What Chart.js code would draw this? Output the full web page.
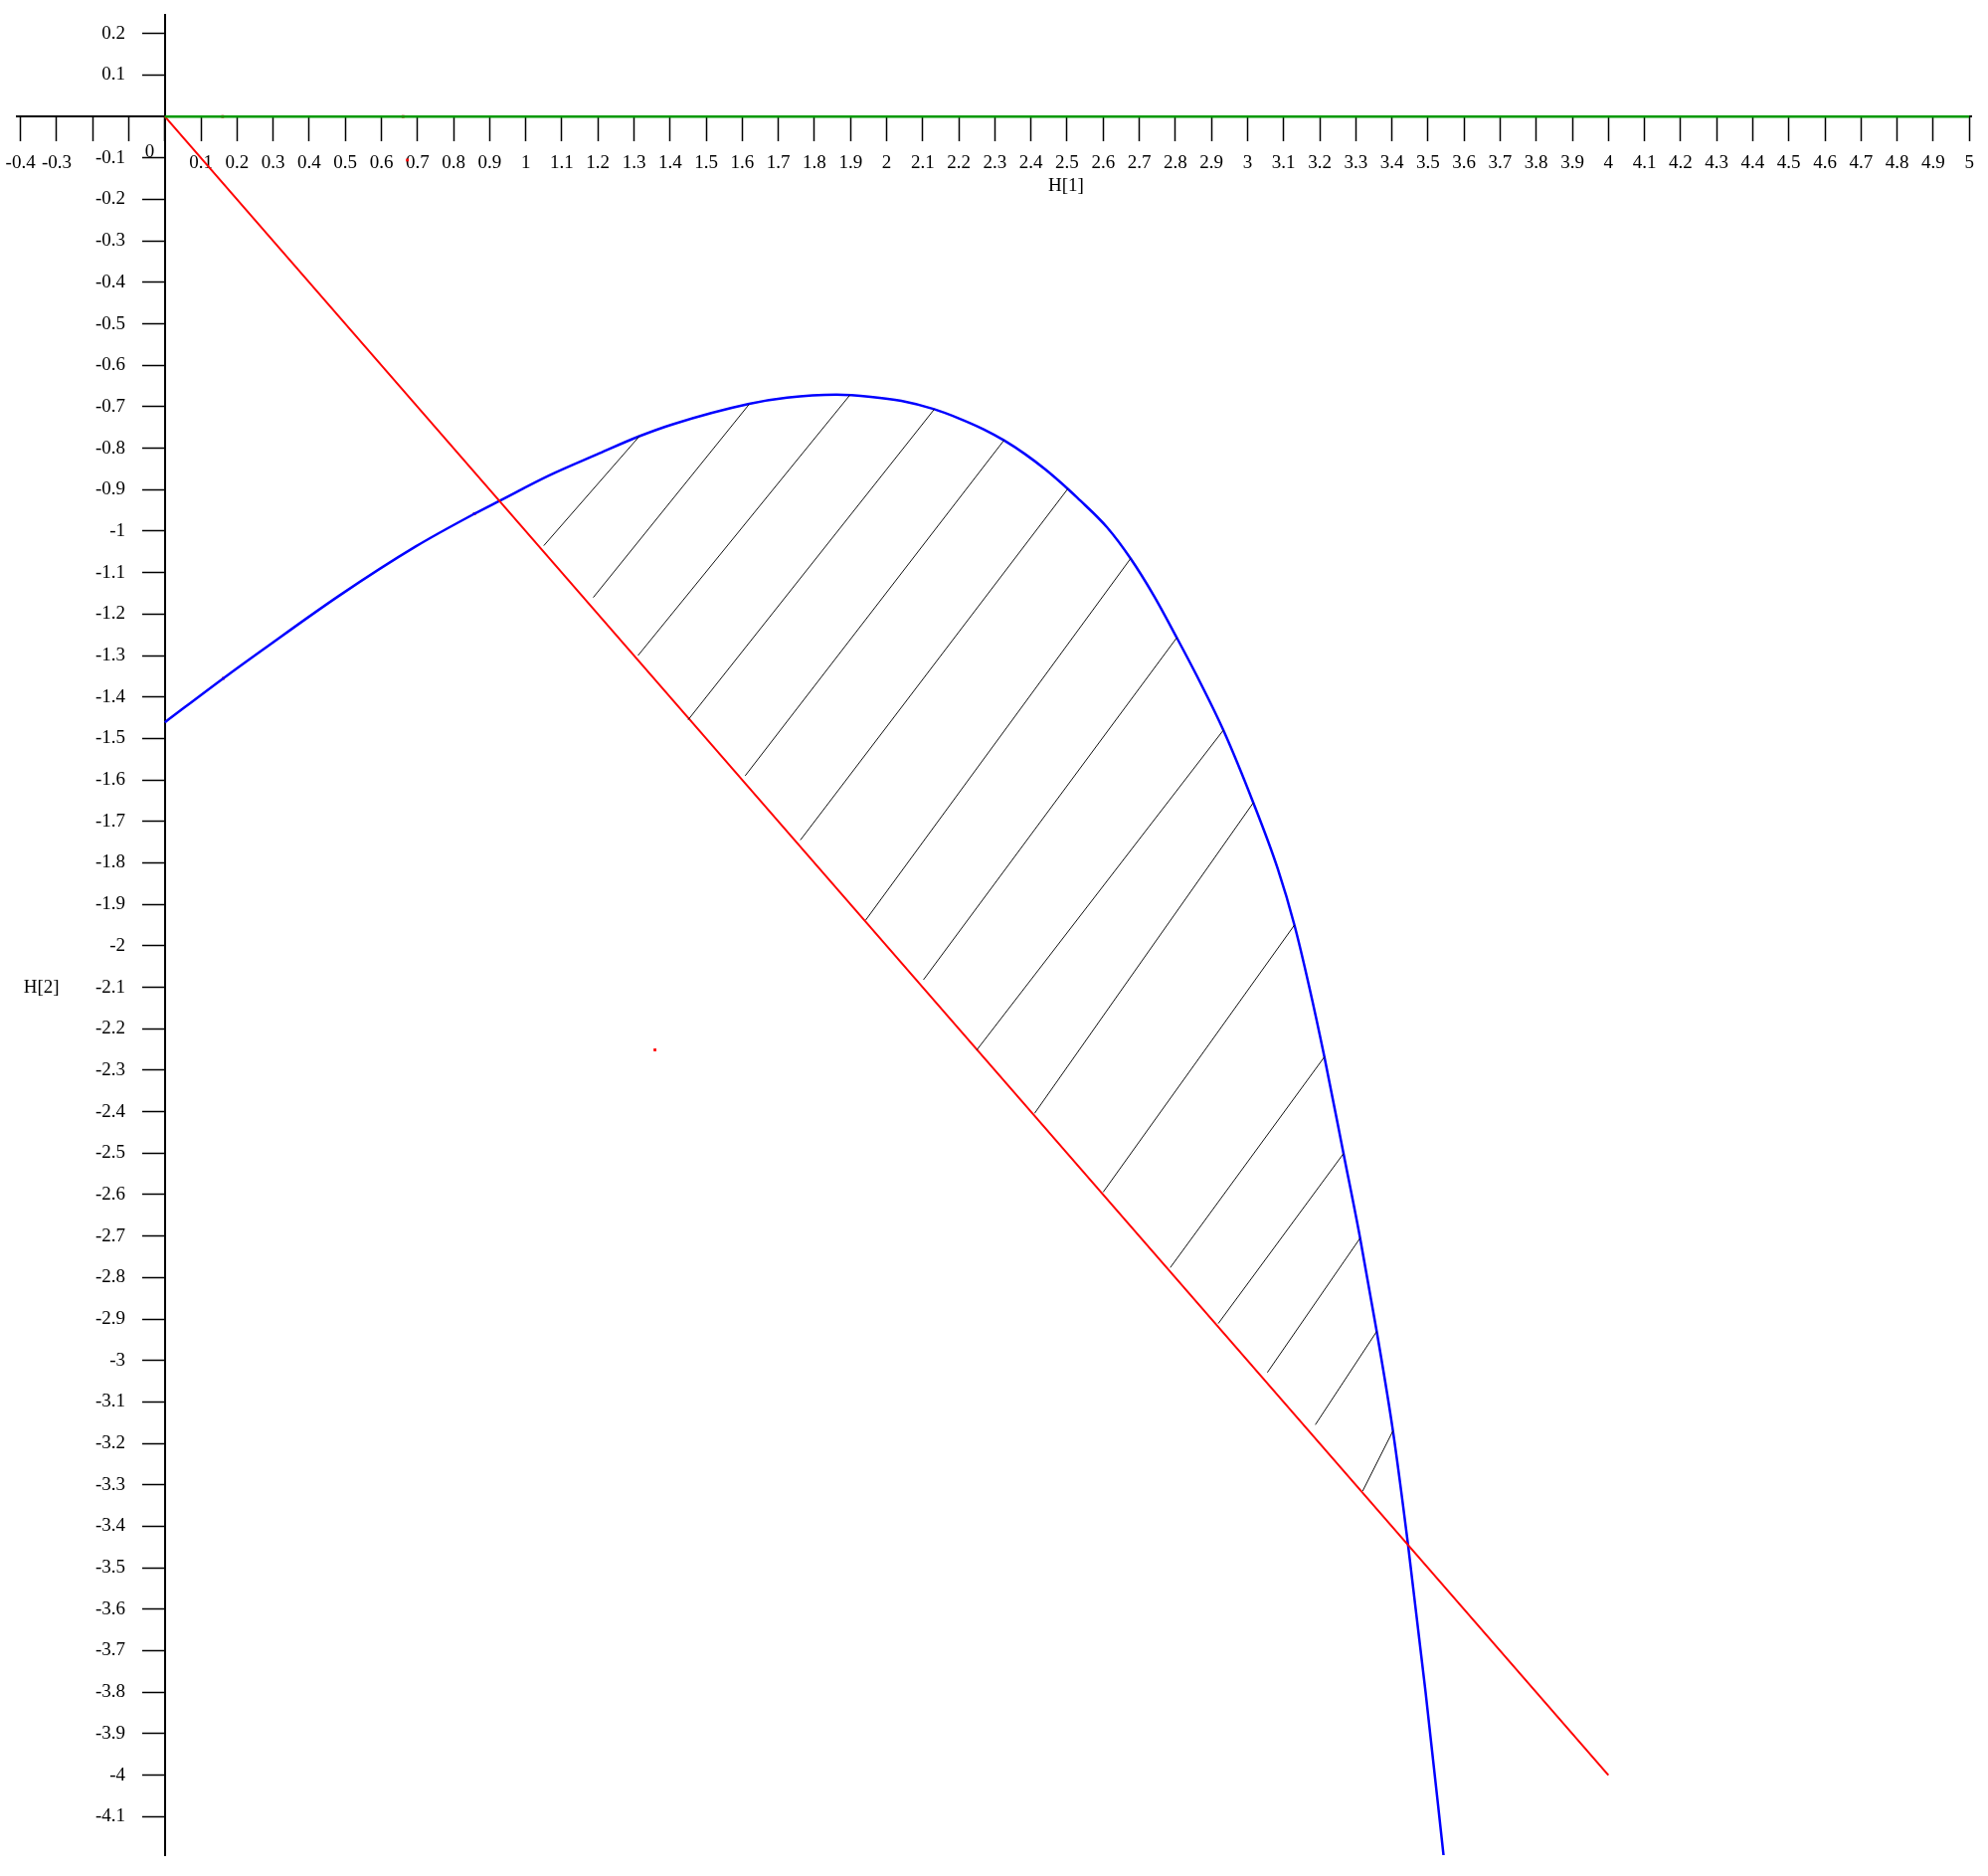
<!DOCTYPE html>
<html>
<head>
<meta charset="utf-8">
<title>H[2] vs H[1]</title>
<script src="https://cdn.jsdelivr.net/npm/chart.js@4"></script>
<style>
    html, body { margin: 0; padding: 0; background: #fff; }
    #wrap { position: relative; width: 1999px; height: 1886px; }
</style>
</head>
<body>
<div id="wrap"><canvas id="plot"></canvas></div>
<script>
// blue curve
const curveX = [0.000, 0.162, 0.273, 0.484, 0.695, 0.858, 0.927, 1.064, 1.197, 1.315, 1.408, 1.619, 1.724, 1.861, 1.956, 2.041, 2.132, 2.200, 2.270, 2.325, 2.385, 2.441, 2.502, 2.529, 2.611, 2.676, 2.740, 2.804, 2.859, 2.933, 3.016, 3.084, 3.130, 3.170, 3.213, 3.266, 3.312, 3.358, 3.403, 3.444, 3.493, 3.544];
const curveY = [-1.461, -1.355, -1.285, -1.155, -1.037, -0.958, -0.927, -0.866, -0.815, -0.771, -0.742, -0.693, -0.678, -0.671, -0.676, -0.686, -0.706, -0.728, -0.755, -0.781, -0.815, -0.852, -0.898, -0.920, -0.991, -1.066, -1.155, -1.257, -1.348, -1.480, -1.655, -1.815, -1.950, -2.095, -2.268, -2.501, -2.705, -2.930, -3.170, -3.439, -3.797, -4.200];

// red straight line
const lineX = [0, 4];
const lineY = [0, -4];

// green segment on the H[1] axis
const greenX = [0, 5];
const greenY = [0, 0];

// hatch segments: lower end on the red line, upper end on the curve
const hatchLowX = [1.050, 1.187, 1.311, 1.450, 1.608, 1.761, 1.942, 2.102, 2.250, 2.410, 2.600, 2.786, 2.919, 3.055, 3.188, 3.319];
const hatchLowY = [-1.035, -1.160, -1.300, -1.455, -1.590, -1.745, -1.938, -2.082, -2.251, -2.404, -2.594, -2.776, -2.911, -3.029, -3.155, -3.315];
const hatchTopX = [1.315, 1.619, 1.898, 2.132, 2.325, 2.502, 2.676, 2.804, 2.933, 3.016, 3.130, 3.213, 3.266, 3.312, 3.358, 3.403];
const hatchTopY = [-0.771, -0.694, -0.672, -0.706, -0.781, -0.898, -1.066, -1.257, -1.480, -1.655, -1.950, -2.268, -2.501, -2.705, -2.930, -3.170];

// stray red marks
const redDotX = [0.160, 0.660, 0.162, 0.858, 1.358, 0.672];
const redDotY = [0, 0, -1.355, -0.958, -2.251, -0.105];

// ticks
function range(from, to, step) {
    const out = [];
    const n = Math.round((to - from) / step);
    for (let i = 0; i <= n; i++) out.push(Math.round((from + i * step) * 10) / 10);
    return out;
}
const xTickValues = range(-0.4, 5, 0.1);
const yTickValues = range(-4.1, 0.2, 0.1).filter(v => v !== 0);
const hiddenXLabels = [-0.2, -0.1, 0];

const FONT = '"Liberation Serif", "Times New Roman", serif';
Chart.defaults.font.family = FONT;
Chart.defaults.font.size = 19;
Chart.defaults.color = '#000';

function fmt(v) {
    return String(Math.round(v * 10) / 10);
}

const pts = (xs, ys) => xs.map((x, i) => ({ x: x, y: ys[i] }));

// scales placed inside the chart area should not push it around
const noPadding = scale => {
    scale.paddingLeft = 0;
    scale.paddingRight = 0;
    scale.paddingTop = 0;
    scale.paddingBottom = 0;
};

const hatchSets = hatchLowX.map((x, i) => ({
    data: [{ x: x, y: hatchLowY[i] }, { x: hatchTopX[i], y: hatchTopY[i] }],
    borderColor: '#111',
    borderWidth: 1,
    pointRadius: 0,
    showLine: true,
}));

// axis titles and the origin label
const extraText = {
    id: 'extraText',
    afterDraw(chart) {
        const { ctx } = chart;
        const x = chart.scales.x;
        const y = chart.scales.y;
        ctx.save();
        ctx.font = '19px ' + FONT;
        ctx.fillStyle = '#000';
        ctx.textAlign = 'center';
        ctx.textBaseline = 'middle';
        ctx.fillText('H[1]', x.getPixelForValue(2.497), y.getPixelForValue(-0.167));
        ctx.fillText('H[2]', x.getPixelForValue(-0.342), y.getPixelForValue(-2.1));
        ctx.fillText('0', x.getPixelForValue(-0.042), y.getPixelForValue(-0.085));
        ctx.restore();
    }
};

new Chart(document.getElementById('plot'), {
    type: 'scatter',
    data: {
        datasets: [
            { data: pts(greenX, greenY), borderColor: '#009900', borderWidth: 2.5, pointRadius: 0, showLine: true },
            ...hatchSets,
            { data: pts(lineX, lineY), borderColor: '#ff0000', borderWidth: 2, pointRadius: 0, showLine: true },
            { data: pts(curveX, curveY), borderColor: '#0000ff', borderWidth: 2.5, pointRadius: 0, showLine: true, cubicInterpolationMode: 'monotone' },
            { data: pts(redDotX, redDotY), backgroundColor: '#ff0000', borderWidth: 0, pointRadius: 2, pointStyle: 'rect', showLine: false },
        ],
    },
    options: {
        responsive: true,
        maintainAspectRatio: false,
        animation: false,
        events: [],
        layout: { padding: { left: 17, right: 17, top: 15, bottom: 21 } },
        plugins: { legend: { display: false }, tooltip: { enabled: false } },
        scales: {
            x: {
                type: 'linear',
                min: -0.41,
                max: 5.005,
                position: { y: 0 },
                afterBuildTicks: axis => { axis.ticks = xTickValues.map(v => ({ value: v })); },
                afterFit: noPadding,
                grid: { drawOnChartArea: false, drawTicks: true, tickLength: 24, tickColor: '#000', tickWidth: 1.5 },
                border: { display: true, color: '#000', width: 2 },
                ticks: {
                    autoSkip: false,
                    maxRotation: 0,
                    minRotation: 0,
                    padding: 11,
                    callback: v => hiddenXLabels.includes(Math.round(v * 10) / 10) ? '' : fmt(v),
                },
            },
            // axis line and tick marks of H[2]
            y: {
                type: 'linear',
                min: -4.193,
                max: 0.245,
                position: { x: 0 },
                afterBuildTicks: axis => { axis.ticks = yTickValues.map(v => ({ value: v })); },
                afterFit: noPadding,
                grid: { drawOnChartArea: false, drawTicks: true, tickLength: 22, tickColor: '#000', tickWidth: 1.5 },
                border: { display: true, color: '#000', width: 2 },
                ticks: { display: false },
            },
            // tick labels of H[2], right-aligned left of the tick marks
            yLabels: {
                type: 'linear',
                axis: 'y',
                min: -4.193,
                max: 0.245,
                position: { x: -0.1097 },
                afterBuildTicks: axis => { axis.ticks = yTickValues.map(v => ({ value: v })); },
                afterFit: noPadding,
                grid: { display: false },
                border: { display: false },
                ticks: { autoSkip: false, callback: v => fmt(v) },
            },
        },
    },
    plugins: [extraText],
});
</script>
</body>
</html>
